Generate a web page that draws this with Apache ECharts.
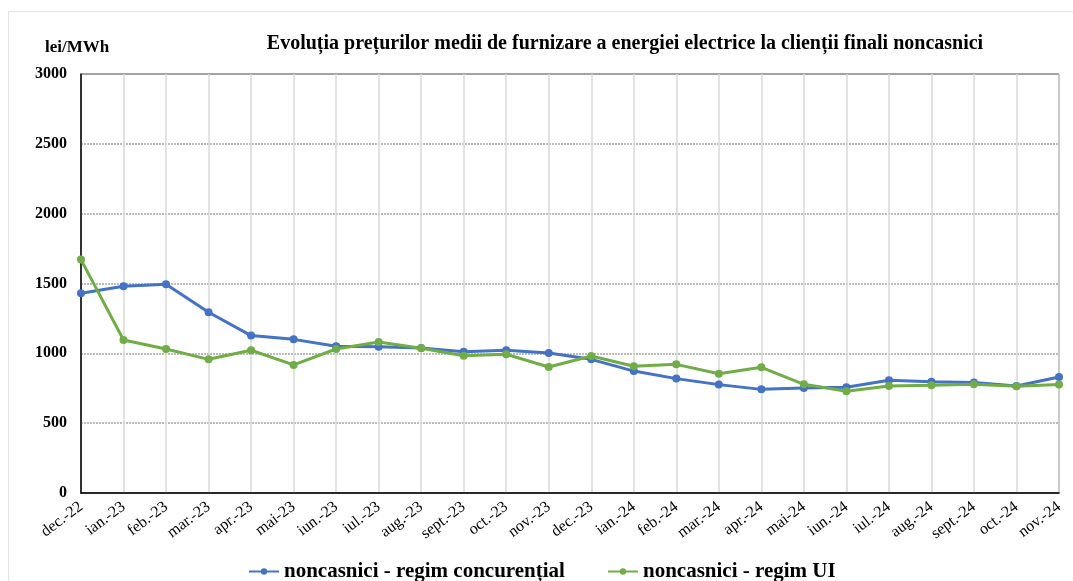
<!DOCTYPE html>
<html>
<head>
<meta charset="utf-8">
<script src="https://cdn.jsdelivr.net/npm/echarts@6/dist/echarts.min.js"></script>
<style>html,body{margin:0;padding:0;background:#fff;}#c{width:1073px;height:581px;}</style>
</head>
<body>
<div id="c"></div>
<script>
const categories = ['dec.-22','ian.-23','feb.-23','mar.-23','apr.-23','mai-23','iun.-23','iul.-23','aug.-23','sept.-23','oct.-23','nov.-23','dec.-23','ian.-24','feb.-24','mar.-24','apr.-24','mai-24','iun.-24','iul.-24','aug.-24','sept.-24','oct.-24','nov.-24'];
const concurential = [1430,1480,1495,1294,1127,1100,1050,1048,1038,1012,1022,1002,957,873,819,776,742,752,757,807,797,792,766,831];
const regimUI = [1671,1096,1031,957,1022,917,1031,1081,1036,983,993,902,981,907,921,854,900,778,728,766,771,778,764,776];
const seriesNames = ['noncasnici - regim concurențial','noncasnici - regim UI'];
const titleText = 'Evoluția prețurilor medii de furnizare a energiei electrice la clienții finali noncasnici';
const unitText = 'lei/MWh';

const serif = '"Liberation Serif","DejaVu Serif",serif';
const chart = echarts.init(document.getElementById('c'));
chart.setOption({
  backgroundColor: '#fff',
  animation: false,
  graphic: [
    {type:'rect', shape:{x:8.5,y:11.5,width:1100,height:600}, style:{fill:'none',stroke:'#e3e3e3',lineWidth:1}, z:-1},
    {type:'text', left: 45, top: 39, style:{text: unitText, font: 'bold 17px ' + serif, fill:'#000'}}
  ],
  title: {
    text: titleText,
    left: 620, top: 29, textAlign: 'center',
    textStyle: {fontFamily: serif, fontWeight: 'bold', fontSize: 20, color: '#000'}
  },
  legend: {
    top: 556, left: 243,
    itemGap: 42, itemWidth: 30, itemHeight: 8,
    textStyle: {fontFamily: serif, fontWeight: 'bold', fontSize: 21, color: '#000'},
    data: seriesNames
  },
  grid: {left: 81, right: 14, top: 74, bottom: 88, show: true, borderColor: '#404040', borderWidth: 1},
  xAxis: {
    type: 'category', data: categories, boundaryGap: false,
    axisLine: {lineStyle: {color: '#000', width: 1.5}},
    axisTick: {show: false},
    splitLine: {show: true, interval: 0, lineStyle: {color: '#d9d9d9', width: 1.5}},
    axisLabel: {interval: 0, rotate: 37, margin: 12, fontFamily: serif, fontSize: 16, color: '#000'}
  },
  yAxis: {
    type: 'value', min: 0, max: 3000, interval: 500,
    axisLine: {show: true, lineStyle: {color: '#000', width: 1.5}},
    axisTick: {show: false},
    splitLine: {show: true, lineStyle: {color: '#a6a6a6', type: [2, 1], width: 1.5}},
    axisLabel: {margin: 14, fontFamily: serif, fontWeight: 'bold', fontSize: 16, color: '#000', formatter: v => String(v)}
  },
  series: [
    {name: seriesNames[0], type: 'line', data: concurential, symbol: 'circle', symbolSize: 8,
     itemStyle: {color: '#4472C4'}, lineStyle: {width: 3, color: '#4472C4'}},
    {name: seriesNames[1], type: 'line', data: regimUI, symbol: 'circle', symbolSize: 8,
     itemStyle: {color: '#70AD47'}, lineStyle: {width: 3, color: '#70AD47'}}
  ]
});
</script>
</body>
</html>
